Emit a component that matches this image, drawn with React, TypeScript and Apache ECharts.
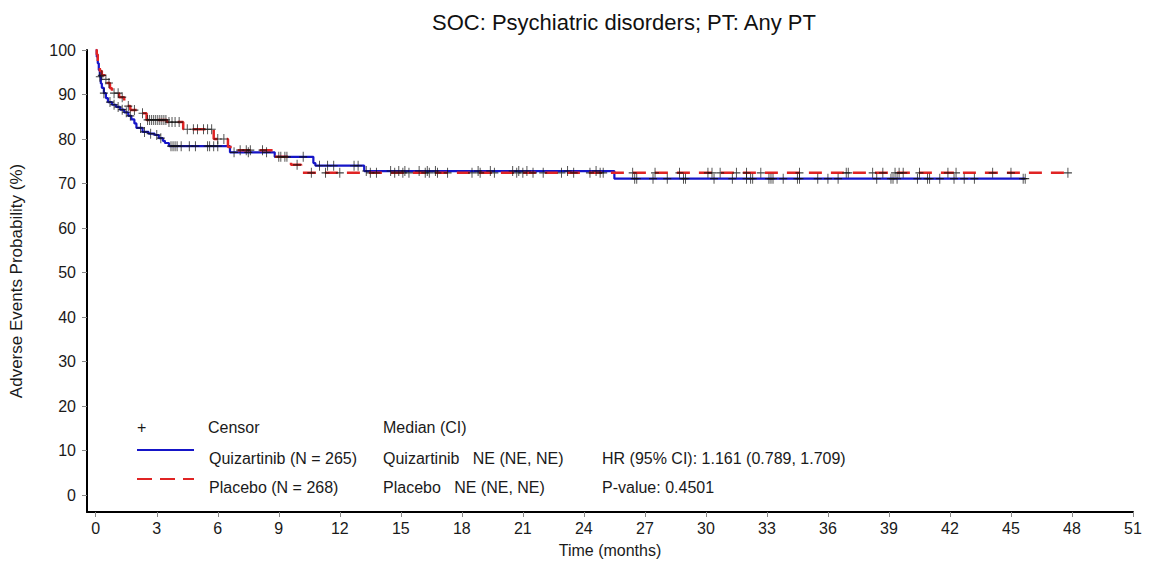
import React, { useEffect, useRef } from "react";
import * as echarts from "echarts";

const title = "SOC: Psychiatric disorders; PT: Any PT";
const xTicks = [0, 3, 6, 9, 12, 15, 18, 21, 24, 27, 30, 33, 36, 39, 42, 45, 48, 51];
const yTicks = [0, 10, 20, 30, 40, 50, 60, 70, 80, 90, 100];

// Quizartinib KM step points (time in months, probability %)
const quizT = [0, 0.05, 0.1, 0.15, 0.2, 0.25, 0.3, 0.4, 0.5, 0.6, 0.8, 1.0, 1.2, 1.4, 1.6, 1.75, 1.9, 2.0, 2.3, 2.6, 2.9, 3.1, 3.3, 3.4, 3.6, 6.6, 8.8, 10.7, 10.8, 13.2, 25.5, 45.7];
const quizS = [100, 98.5, 97, 95.5, 94, 92.5, 91.5, 90.3, 89.2, 88.3, 87.7, 87.2, 86.6, 86.0, 85.2, 84.4, 83.5, 82.5, 81.6, 81.2, 80.9, 80.2, 79.6, 79.1, 78.4, 77.0, 76.0, 74.6, 74.0, 72.8, 71.1, 71.1];
// Placebo KM step points
const placT = [0, 0.05, 0.1, 0.2, 0.3, 0.45, 0.56, 0.7, 0.8, 1.15, 1.4, 1.55, 1.7, 2.1, 2.5, 3.5, 4.3, 5.8, 6.5, 6.9, 8.75, 9.6, 10.1, 47.8];
const placS = [100, 99, 97.5, 95.3, 94.3, 93.4, 92.6, 91.4, 90.3, 89.4, 88.3, 87.4, 86.5, 85.8, 84.3, 83.8, 82.2, 80.0, 78.2, 77.5, 76.0, 74.2, 72.4, 72.4];

// Censor times
const quizC = [0.2, 0.4, 0.7, 0.9, 1.1, 1.3, 1.5, 1.7, 2.2, 2.4, 2.7, 3.0, 3.2, 3.7, 3.8, 3.9, 4.0, 4.2, 4.6, 4.9, 5.5, 5.6, 5.8, 6.0, 6.8, 7.5, 8.4, 9.0, 9.4, 10.2, 11.0, 11.4, 11.7, 12.7, 12.9, 13.3, 14.5, 14.9, 15.2, 15.9, 16.3, 16.7, 18.8, 19.4, 20.5, 20.8, 21.2, 23.2, 24.6, 26.5, 26.6, 27.4, 28.1, 28.9, 29.0, 30.4, 31.3, 32.0, 32.2, 32.3, 33.1, 33.2, 33.3, 33.8, 34.5, 34.6, 35.5, 36.0, 36.5, 38.4, 39.1, 39.2, 39.4, 40.4, 40.9, 41.0, 41.5, 42.2, 42.7, 43.2, 45.6, 45.7];
const placC = [0.3, 0.5, 0.65, 0.9, 1.1, 1.3, 1.6, 1.9, 2.3, 2.55, 2.65, 2.75, 2.85, 2.95, 3.05, 3.15, 3.25, 3.35, 3.45, 3.6, 3.75, 3.9, 4.1, 4.5, 4.8, 5.0, 5.3, 5.5, 5.7, 6.0, 6.3, 7.1, 7.4, 7.6, 8.2, 9.1, 9.3, 9.9, 10.6, 11.3, 12.0, 13.5, 13.8, 14.7, 15.1, 15.4, 16.2, 16.4, 16.8, 17.3, 18.5, 18.9, 19.6, 20.7, 21.0, 21.5, 22.0, 22.9, 23.5, 24.3, 24.8, 24.95, 26.4, 27.5, 28.7, 30.1, 30.3, 30.7, 31.5, 32.0, 32.7, 34.6, 36.9, 37.0, 38.2, 38.7, 39.3, 39.5, 39.7, 40.5, 41.9, 42.3, 44.1, 45.0, 47.8];

const FONT = "'Liberation Sans', Arial, sans-serif";
const BLUE = "#1515c8";
const RED = "#e02424";

function stepValue(ts: number[], ss: number[], t: number) {
  let v = ss[0];
  for (let i = 0; i < ts.length; i++) {
    if (ts[i] <= t) v = ss[i];
    else break;
  }
  return v;
}

export default function App() {
  const ref = useRef<HTMLDivElement>(null);
  useEffect(() => {
    if (!ref.current) return;
    const chart = echarts.init(ref.current, null, { renderer: "svg" });
    const quizData = quizT.map((t, i) => [t, quizS[i]]);
    const placData = placT.map((t, i) => [t, placS[i]]);
    const censorPts = [
      ...quizC.map((t) => [t, stepValue(quizT, quizS, t)]),
      ...placC.map((t) => [t, stepValue(placT, placS, t)]),
    ];
    const textStyle = (x: number, y: number, text: string) => ({
      type: "text",
      x,
      y,
      style: { text, font: `16px ${FONT}`, fill: "#1a1a1a", verticalAlign: "middle", align: "left" },
    });
    chart.setOption({
      animation: false,
      backgroundColor: "#fff",
      title: {
        text: title,
        left: 619,
        top: 6,
        textAlign: "center",
        textStyle: { fontFamily: FONT, fontSize: 22, fontWeight: "normal", color: "#111" },
      },
      grid: { left: 87, right: 21, top: 50, bottom: 53 },
      xAxis: {
        type: "value",
        min: -0.43,
        max: 51,
        name: "Time (months)",
        nameLocation: "middle",
        nameGap: 30,
        nameTextStyle: { fontFamily: FONT, fontSize: 16, color: "#1a1a1a" },
        axisLine: { show: true, onZero: false, lineStyle: { color: "#000", width: 2 } },
        axisTick: { show: true, customValues: xTicks, length: 5, lineStyle: { color: "#888" } },
        axisLabel: { customValues: xTicks, fontFamily: FONT, fontSize: 16, color: "#1a1a1a", margin: 8 },
        splitLine: { show: false },
      },
      yAxis: {
        type: "value",
        min: -3.8,
        max: 100,
        name: "Adverse Events Probability (%)",
        nameLocation: "middle",
        nameGap: 62,
        nameRotate: 90,
        nameTextStyle: { fontFamily: FONT, fontSize: 17, color: "#1a1a1a" },
        axisLine: { show: true, onZero: false, lineStyle: { color: "#000", width: 2 } },
        axisTick: { show: true, customValues: yTicks, length: 5, lineStyle: { color: "#888" } },
        axisLabel: { customValues: yTicks, fontFamily: FONT, fontSize: 16, color: "#1a1a1a", margin: 11 },
        splitLine: { show: false },
      },
      series: [
        {
          name: "Quizartinib (N = 265)",
          type: "line",
          step: "end",
          data: quizData,
          showSymbol: false,
          lineStyle: { color: BLUE, width: 2.2 },
          z: 2,
        },
        {
          name: "Placebo (N = 268)",
          type: "line",
          step: "end",
          data: placData,
          showSymbol: false,
          lineStyle: { color: RED, width: 2.5, type: [13, 9] },
          z: 3,
        },
        {
          name: "Censor",
          type: "scatter",
          data: censorPts,
          symbol: "path://M5,0 L5,10 M0,5 L10,5",
          symbolSize: [8, 10],
          itemStyle: { color: "none", borderColor: "#111", borderWidth: 1 },
          z: 4,
        },
      ],
      graphic: [
        textStyle(137, 427, "+"),
        textStyle(208, 427, "Censor"),
        textStyle(383, 427, "Median (CI)"),
        {
          type: "line",
          shape: { x1: 137, y1: 450, x2: 194, y2: 450 },
          style: { stroke: BLUE, lineWidth: 2 },
        },
        textStyle(209, 458, "Quizartinib (N = 265)"),
        textStyle(383, 458, "Quizartinib   NE (NE, NE)"),
        textStyle(602, 458, "HR (95% CI): 1.161 (0.789, 1.709)"),
        {
          type: "line",
          shape: { x1: 137, y1: 479, x2: 194, y2: 479 },
          style: { stroke: RED, lineWidth: 2, lineDash: [15, 8] },
        },
        textStyle(209, 487, "Placebo (N = 268)"),
        textStyle(383, 487, "Placebo   NE (NE, NE)"),
        textStyle(602, 487, "P-value: 0.4501"),
      ],
    });
    return () => chart.dispose();
  }, []);
  return (
    <div
      ref={ref}
      style={{ position: "fixed", left: 0, top: 0, width: 1154, height: 565, background: "#fff" }}
    />
  );
}
